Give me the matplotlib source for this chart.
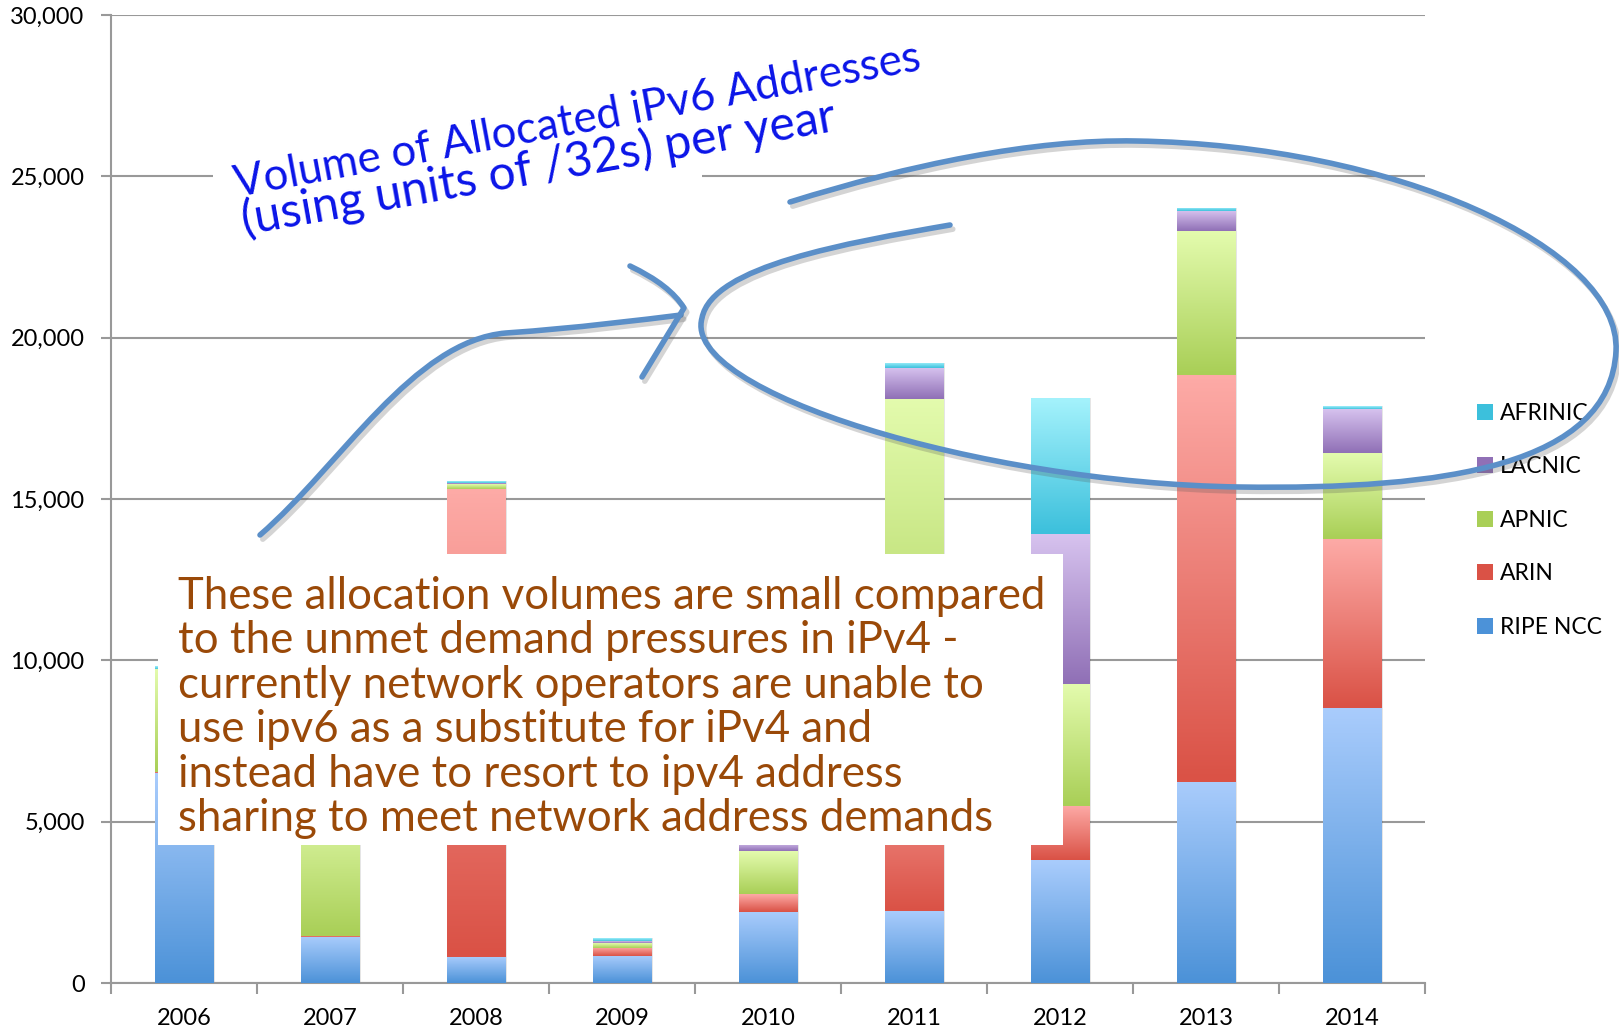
import matplotlib.pyplot as plt
import numpy as np
from matplotlib.colors import LinearSegmentedColormap
from matplotlib.patches import Patch, Rectangle, PathPatch
from matplotlib.path import Path
import matplotlib.patheffects as pe

years = ["2006", "2007", "2008", "2009", "2010", "2011", "2012", "2013", "2014"]
ripe_ncc = [6500, 1430, 810, 840, 2210, 2240, 3810, 6240, 8530]
arin = [50, 40, 14500, 250, 550, 5500, 1680, 12600, 5230]
apnic = [3170, 4300, 150, 140, 1330, 10360, 3780, 4460, 2660]
lacnic = [20, 30, 40, 60, 250, 970, 4650, 620, 1370]
afrinic = [80, 30, 60, 90, 100, 160, 4210, 100, 90]

series = [
    ("RIPE NCC", ripe_ncc, "#4c92d8", "#a9ccfc"),
    ("ARIN", arin, "#da5246", "#fdaaa6"),
    ("APNIC", apnic, "#a9cf57", "#e3fbad"),
    ("LACNIC", lacnic, "#9070b6", "#d7c3ef"),
    ("AFRINIC", afrinic, "#3cc0dc", "#a4f2fc"),
]

W, H = 1619, 1031
fig = plt.figure(figsize=(W / 100, H / 100), dpi=100)
ax = fig.add_axes([111 / W, 1 - 983 / H, (1425 - 111) / W, (983 - 15) / H])

def fp(x, y):
    # pixel position (from top-left) to figure fraction
    return (x / W, 1 - y / H)

x = np.arange(len(years))
bw = 0.40
bottom = np.zeros(len(years))
grad = np.linspace(0, 1, 64).reshape(-1, 1)
handles = []
for name, vals, dark, light in series:
    vals = np.array(vals, dtype=float)
    # soft shadow to the right of each segment
    ax.bar(x + 0.012, vals, bw, bottom=bottom, color="#000000", alpha=0.10,
           linewidth=0, zorder=2)
    bars = ax.bar(x, vals, bw, bottom=bottom, color=light, linewidth=0, zorder=3)
    cmap = LinearSegmentedColormap.from_list(name, [dark, light])
    for b in bars:
        x0, y0 = b.get_x(), b.get_y()
        im = ax.imshow(grad, extent=[x0, x0 + b.get_width(), y0, y0 + b.get_height()],
                       origin="lower", aspect="auto", cmap=cmap, zorder=3.5,
                       interpolation="bicubic")
        im.set_clip_path(b)
    handles.append(Patch(facecolor=dark, edgecolor="none", label=name))
    bottom += vals

ax.set_xlim(-0.5, len(years) - 0.5)
ax.set_ylim(0, 30000)
ax.set_yticks(np.arange(0, 30001, 5000))
ax.set_yticklabels([f"{v:,}" for v in range(0, 30001, 5000)])
ax.set_xticks(x)
ax.set_xticklabels(years)
ax.set_xticks(np.arange(-0.5, len(years)), minor=True)
ax.tick_params(axis="x", which="major", length=0, pad=18, labelsize=17)
ax.tick_params(axis="x", which="minor", length=8, width=1.5, color="#999999")
ax.tick_params(axis="y", length=7, width=1.5, color="#999999", pad=12, labelsize=17)
ax.yaxis.grid(True, color="#999999", linewidth=1.5, zorder=0)
ax.set_axisbelow(True)
for side in ["top", "right"]:
    ax.spines[side].set_visible(False)
for side in ["left", "bottom"]:
    ax.spines[side].set_color("#999999")
    ax.spines[side].set_linewidth(1.5)
for lbl in ax.get_xticklabels() + ax.get_yticklabels():
    lbl.set_fontfamily("Lato")

leg = ax.legend(handles=handles[::-1], loc="upper left", bbox_to_anchor=fp(1456, 382),
                bbox_transform=fig.transFigure, frameon=False,
                handlelength=0.7, handleheight=0.7, handletextpad=0.3,
                labelspacing=1.42, prop={"family": "Lato", "size": 16.5})

# white patch behind the handwritten title
fig.patches.append(Rectangle(fp(213, 195), (702 - 213) / W, 45 / H, transform=fig.transFigure,
                             facecolor="white", edgecolor="none", zorder=4))
fig.text(*fp(237, 197), "Volume of Allocated iPv6 Addresses", color="#0a14e8", fontsize=31.5,
         family="Lato", rotation=10.5, rotation_mode="anchor", ha="left", va="baseline", zorder=5)
fig.text(*fp(245, 236), "(using units of /32s) per year", color="#0a14e8", fontsize=34.5,
         family="Lato", rotation=10, rotation_mode="anchor", ha="left", va="baseline", zorder=5)

# text box over the lower bars
fig.patches.append(Rectangle(fp(158, 845), (1063 - 158) / W, (845 - 554) / H,
                             transform=fig.transFigure, facecolor="white", edgecolor="none",
                             zorder=6))
note = [
    "These allocation volumes are small compared",
    "to the unmet demand pressures in iPv4 -",
    "currently network operators are unable to",
    "use ipv6 as a substitute for iPv4 and",
    "instead have to resort to ipv4 address",
    "sharing to meet network address demands",
]
for i, line in enumerate(note):
    fig.text(*fp(178, 609 + i * 44.4), line, color="#9a4908", fontsize=31.5, family="Lato",
             ha="left", va="baseline", zorder=7)

# hand-drawn arrow and loop
stroke = dict(transform=fig.transFigure, facecolor="none", edgecolor="#5b8fc8", linewidth=4,
              capstyle="round", joinstyle="round", zorder=8,
              path_effects=[pe.SimpleLineShadow(offset=(2, -3), alpha=0.25, shadow_color="#555555"),
                            pe.Normal()])

def curve(pts, codes):
    return Path([fp(px, py) for px, py in pts], codes)

C, M = Path.CURVE4, Path.MOVETO
loop = curve([(790, 202), (909, 165), (1033, 139), (1136, 141),
              (1394, 145), (1621, 248), (1616, 351),
              (1610, 465), (1446, 490), (1239, 487),
              (981, 483), (681, 392), (702, 318),
              (712, 266), (847, 243), (950, 225)],
             [M] + [C] * 15)
fig.patches.append(PathPatch(loop, **stroke))
arrow = curve([(260, 535), (341, 465), (413, 341), (506, 333),
               (578, 328), (640, 320), (681, 315)],
              [M] + [C] * 6)
fig.patches.append(PathPatch(arrow, **stroke))
head = curve([(630, 266), (670, 285), (684, 308), (642, 377)],
             [M, Path.CURVE3, Path.CURVE3, Path.LINETO])
fig.patches.append(PathPatch(head, **stroke))

fig.savefig("out.png", dpi=100)
